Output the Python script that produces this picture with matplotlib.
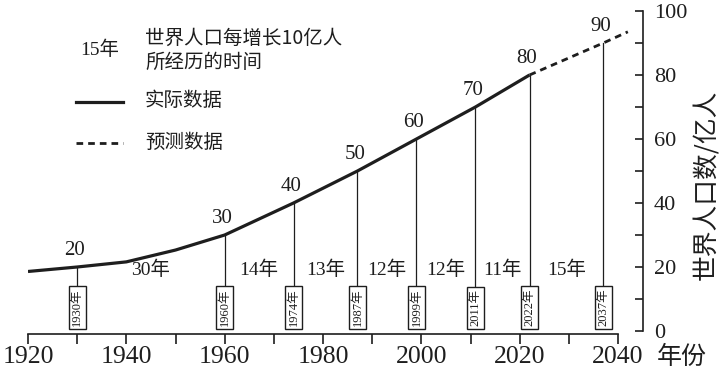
import matplotlib.pyplot as plt
from matplotlib.lines import Line2D

# Population data (unit: 亿人)
years_actual = [1920, 1930, 1940, 1950, 1960, 1974, 1987, 1999, 2011, 2022]
pop_actual = [18.6, 20, 21.6, 25.3, 30, 40, 50, 60, 70, 80]
years_forecast = [2022, 2037, 2042]
pop_forecast = [80, 90, 93.5]

# Years where each 10亿 step was reached
milestone_years = [1930, 1960, 1974, 1987, 1999, 2011, 2022, 2037]
milestone_pop = [20, 30, 40, 50, 60, 70, 80, 90]
interval_labels = ['30年', '14年', '13年', '12年', '12年', '11年', '15年']

x_ticks = [1920, 1940, 1960, 1980, 2000, 2020, 2040]
y_ticks = [0, 20, 40, 60, 80, 100]

ink = '#1e1e1e'
mixed = ['Liberation Serif', 'Noto Sans CJK SC']
cjk = ['Noto Sans CJK SC', 'DejaVu Sans']

W, H = 722, 373


def px(x, y):
    # pixel position (from top-left) -> figure fraction
    return x / W, 1 - y / H


fig = plt.figure(figsize=(W / 100, H / 100), dpi=100)
ax = fig.add_axes([28 / W, 1 - 331 / H, 615 / W, 320 / H])
ax.set_xlim(1920, 2045.08)
ax.set_ylim(0, 100)

# axes: bottom year axis, right population axis
ax.spines['top'].set_visible(False)
ax.spines['left'].set_visible(False)
ax.spines['bottom'].set_bounds(1920, 2040)
ax.spines['bottom'].set_position(('data', -0.8))
ax.spines['right'].set_bounds(0, 100)
for s in ['bottom', 'right']:
    ax.spines[s].set_color(ink)
    ax.spines[s].set_linewidth(1.2)

ax.yaxis.tick_right()
ax.set_xticks(x_ticks)
ax.set_xticks(range(1930, 2040, 20), minor=True)
ax.set_xticklabels([str(t) for t in x_ticks], family='Liberation Serif', fontsize=18.5, color=ink)
ax.set_yticks(y_ticks)
ax.set_yticks(range(10, 100, 20), minor=True)
ax.set_yticklabels([str(t) for t in y_ticks], family='Liberation Serif', fontsize=16, color=ink)
ax.tick_params(axis='x', which='both', direction='out', length=7, width=1.2, pad=2, color=ink)
ax.tick_params(axis='y', which='both', direction='in', length=6, width=1.2, pad=8, color=ink)

# curve
ax.plot(years_actual, pop_actual, color=ink, lw=2.3, solid_capstyle='butt')
ax.plot(years_forecast, pop_forecast, color=ink, lw=2.0, linestyle=(0, (2.4, 1.8)))

# milestone drop lines, value labels and year boxes
box_top = 14
for yr, p in zip(milestone_years, milestone_pop):
    ax.plot([yr, yr], [p, box_top], color=ink, lw=0.9)
    ax.annotate(str(p), (yr, p), xytext=(-2, 12), textcoords='offset points',
                ha='center', va='center', family='Liberation Serif', fontsize=15, color=ink)
    ax.text(yr, 7.3, f'{yr}年', rotation=90, ha='center', va='center',
            family=mixed, fontsize=9, color=ink,
            bbox=dict(boxstyle='square,pad=0.2', fc='white', ec=ink, lw=1))

# years between milestones
for i, lab in enumerate(interval_labels):
    mid = (milestone_years[i] + milestone_years[i + 1]) / 2
    ax.text(mid, 19, lab, ha='center', va='center', family=mixed, fontsize=14, color=ink)

# axis titles
fig.text(*px(707, 185), '世界人口数/亿人', rotation=90, ha='center', va='center',
         family=cjk, fontsize=18.5, color=ink)
fig.text(*px(682, 357), '年份', ha='center', va='center', family=cjk, fontsize=18, color=ink)

# key in the top-left corner
fig.text(*px(100, 50), '15年', ha='center', va='center', family=mixed, fontsize=14, color=ink)
fig.text(*px(145, 38), '世界人口每增长10亿人', ha='left', va='center', family=cjk, fontsize=14, color=ink)
fig.text(*px(145, 62), '所经历的时间', ha='left', va='center', family=cjk, fontsize=14, color=ink)
fig.text(*px(145, 101), '实际数据', ha='left', va='center', family=cjk, fontsize=14, color=ink)
fig.text(*px(145, 142), '预测数据', ha='left', va='center', family=cjk, fontsize=14, color=ink)
x0, y0 = px(76, 102)
x1, _ = px(123, 102)
fig.add_artist(Line2D([x0, x1], [y0, y0], color=ink, lw=2.3))
x0, y0 = px(76, 143)
fig.add_artist(Line2D([x0, x1], [y0, y0], color=ink, lw=2.0, linestyle=(0, (2.4, 1.8))))

fig.savefig('out.png', dpi=100, facecolor='white')
